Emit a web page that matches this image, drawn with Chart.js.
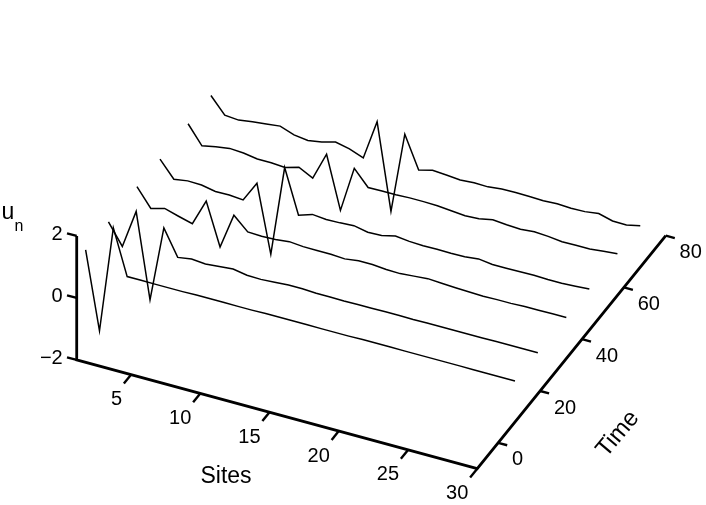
<!DOCTYPE html>
<html>
<head>
<meta charset="utf-8">
<style>html,body{margin:0;padding:0;background:#fff}canvas{display:block}</style>
<script src="https://cdn.jsdelivr.net/npm/chart.js@4"></script>
</head>
<body>
<canvas id="c" width="706" height="505"></canvas>
<script>
const sites = [0,1,2,3,4,5,6,7,8,9,10,11,12,13,14,15,16,17,18,19,20,21,22,23,24,25,26,27,28,29,30,31];
const timeSlices = [1.4,12.3,25.9,36.9,50.3,61.2];
const u1 = [0.47,-2.02,1.42,-0.03,-0.03,-0.03,-0.03,-0.03,-0.02,-0.02,-0.02,-0.02,-0.02,-0.01,-0.01,-0.01,-0.01,-0.01,-0.01,-0.01,0,0,0,0,0,0,0,0,0,0,0,0];
const u2 = [0.46,-0.21,1.04,-1.69,0.75,-0.08,-0.01,-0.05,-0.01,0.03,-0.05,-0.06,-0.03,0,0,-0.02,-0.02,-0.03,-0.02,-0.02,-0.01,-0.01,-0.02,-0.01,-0.01,-0.01,-0.01,-0.01,0,0,0,0];
const u3 = [0.46,-0.12,0,-0.13,-0.25,0.60,-0.76,0.39,-0.03,-0.05,-0.03,0.02,-0.02,-0.02,-0.02,-0.05,0.01,0.01,-0.03,-0.04,0,0.04,0.01,-0.01,-0.03,-0.04,-0.03,-0.03,-0.01,-0.01,0,0];
const u4 = [0.43,-0.10,-0.03,-0.04,-0.13,-0.12,-0.16,0.50,-1.67,1.25,-0.17,-0.02,-0.06,-0.05,-0.02,-0.11,-0.09,0.01,-0.04,-0.06,-0.05,-0.06,-0.05,0,-0.06,-0.06,-0.05,-0.04,-0.06,-0.06,-0.03,0];
const u5 = [0.45,-0.14,-0.05,0.02,-0.01,-0.08,-0.08,-0.11,0.02,-0.21,0.68,-1.01,0.47,-0.03,-0.02,-0.02,0,0,-0.01,-0.05,-0.09,-0.07,0.02,-0.02,-0.04,0,-0.03,-0.08,-0.07,-0.07,-0.02,0.02];
const u6 = [0.45,-0.06,-0.10,-0.03,0.02,0.07,-0.09,-0.15,-0.08,0.04,-0.06,-0.23,1.06,-1.71,0.90,-0.13,-0.02,-0.05,-0.09,-0.06,-0.07,-0.02,-0.01,-0.02,-0.03,-0.01,-0.03,-0.02,0.04,-0.08,-0.09,0.01];
const seriesU = [u1,u2,u3,u4,u5,u6];
const uTicks = [-2,0,2];
const siteTicks = [5,10,15,20,25,30];
const timeTicks = [0,20,40,60,80];

// Oblique projection of (site, time, u) on to the plane of the two hidden scales.
const SITE_MIN = 1.08, SITE_MAX = 30, TIME_MIN = -10, TIME_MAX = 80, U_MIN = -2, U_MAX = 2;
const px = (s, t) => 131 + (s - 5) * 13.85 + (t + 10) * 2.095;
const py = (s, t, u) => 374.7 + (s - 5) * 3.76 - (t + 10) * 2.59 - (u + 2) * 31;
const P = (s, t, u) => ({x: px(s, t), y: py(s, t, u)});

const line = (data, width) => ({data, showLine: true, pointRadius: 0, borderColor: '#000',
  borderWidth: width, tension: 0, borderJoinStyle: 'miter', borderCapStyle: 'butt', fill: false});

const datasets = [];
seriesU.forEach((arr, i) => {
  datasets.push(line(sites.map((s, j) => P(s, timeSlices[i], arr[j])), 1.5));
});
datasets.push(line([
  P(SITE_MIN, TIME_MIN, U_MAX), P(SITE_MIN, TIME_MIN, U_MIN),
  P(SITE_MAX, TIME_MIN, U_MIN), P(SITE_MAX, TIME_MAX, U_MIN)
], 2.8));
uTicks.forEach(u => datasets.push(line([P(SITE_MIN, TIME_MIN, u), P(SITE_MIN - 0.7, TIME_MIN, u)], 2.4)));
siteTicks.forEach(s => datasets.push(line([P(s, TIME_MIN, U_MIN), P(s, TIME_MIN - 3.4, U_MIN)], 2.4)));
timeTicks.forEach(t => datasets.push(line([P(SITE_MAX, t, U_MIN), P(SITE_MAX + 0.65, t, U_MIN)], 2.4)));

const FONT = '"Liberation Sans", Arial, sans-serif';
const textPlugin = {
  id: 'axisText',
  afterDraw(chart) {
    const {ctx, scales: {x, y}} = chart;
    const X = v => x.getPixelForValue(v), Y = v => y.getPixelForValue(v);
    ctx.save();
    ctx.fillStyle = '#000';
    ctx.textBaseline = 'middle';
    ctx.font = '20px ' + FONT;
    ctx.textAlign = 'right';
    uTicks.forEach(u => {
      const lab = u < 0 ? '\u2212' + Math.abs(u) : String(u);
      ctx.fillText(lab, X(px(SITE_MIN, TIME_MIN)) - 14, Y(py(SITE_MIN, TIME_MIN, u)) - 1.5);
    });
    siteTicks.forEach(s => {
      ctx.fillText(String(s), X(px(s, TIME_MIN)) - 9, Y(py(s, TIME_MIN, U_MIN)) + 25);
    });
    ctx.textAlign = 'left';
    timeTicks.forEach(t => {
      ctx.fillText(String(t), X(px(SITE_MAX, t)) + 13.8, Y(py(SITE_MAX, t, U_MIN)) + 17);
    });
    ctx.textBaseline = 'alphabetic';
    ctx.font = '23px ' + FONT;
    ctx.textAlign = 'center';
    ctx.fillText('Sites', 226, 483);
    ctx.save();
    ctx.translate(618, 434);
    ctx.rotate(-50 * Math.PI / 180);
    ctx.textBaseline = 'middle';
    ctx.font = '24px ' + FONT;
    ctx.fillText('Time', 0, 0);
    ctx.restore();
    ctx.textAlign = 'left';
    ctx.font = '23px ' + FONT;
    ctx.fillText('u', 1.5, 219);
    ctx.font = '16px ' + FONT;
    ctx.fillText('n', 14.5, 231);
    ctx.restore();
  }
};

new Chart(document.getElementById('c'), {
  type: 'scatter',
  data: {datasets},
  plugins: [textPlugin],
  options: {
    responsive: false,
    animation: false,
    layout: {padding: 0},
    plugins: {legend: {display: false}, tooltip: {enabled: false}, title: {display: false}},
    scales: {
      x: {type: 'linear', min: 0, max: 706, display: false},
      y: {type: 'linear', min: 0, max: 505, reverse: true, display: false}
    }
  }
});
</script>
</body>
</html>
